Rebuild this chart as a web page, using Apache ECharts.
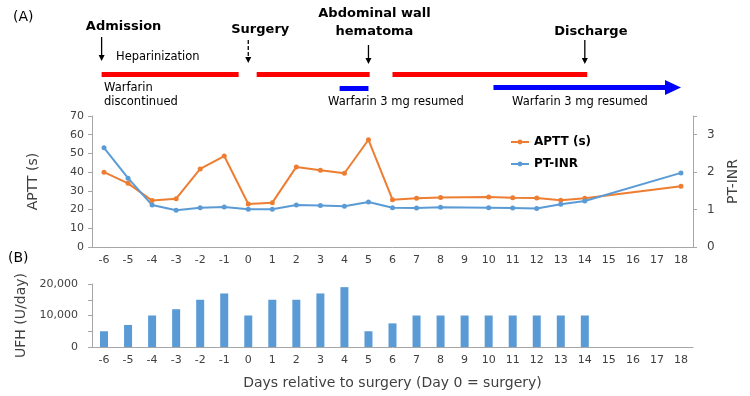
<!DOCTYPE html>
<html>
<head>
<meta charset="utf-8">
<script src="https://cdn.jsdelivr.net/npm/echarts@6/dist/echarts.min.js"></script>
<style>
html, body { margin: 0; padding: 0; background: #fff; }
#main { width: 750px; height: 396px; }
</style>
</head>
<body>
<div id="main"></div>
<script>
// days relative to surgery
var days = ['-6', '-5', '-4', '-3', '-2', '-1', '0', '1', '2', '3', '4', '5', '6',
    '7', '8', '9', '10', '11', '12', '13', '14', '15', '16', '17', '18'];
// APTT (s), left axis
var aptt = [40, 34, 24.8, 25.8, 41.7, 48.6, 23, 23.7, 42.8, 41, 39.4, 57.3, 25.3,
    26, 26.5, null, 26.7, 26.3, 26.2, 25, 26, null, null, null, 32.4];
// PT-INR, right axis
var ptInr = [2.65, 1.84, 1.12, 0.98, 1.05, 1.07, 1.01, 1.01, 1.12, 1.11, 1.09, 1.2, 1.05,
    1.04, 1.06, null, 1.05, 1.04, 1.03, 1.14, 1.23, null, null, null, 1.98];
// UFH (U/day)
var ufh = [5000, 7000, 10000, 12000, 15000, 17000, 10000, 15000, 15000, 17000, 19000, 5000, 7500,
    10000, 10000, 10000, 10000, 10000, 10000, 10000, 10000, null, null, null, null];

// timeline annotations (in days)
var eventNames = ['Admission', 'Surgery', 'Abdominal wall\nhematoma', 'Discharge'];
var eventDays = [-6.1, 0, 5, 14];
var heparinSpans = [[-6.1, -0.4], [0.35, 5.05], [6, 14.1]];
var warfarinSpans = [[3.8, 5], [10.2, 18]];

var FONT = 'Verdana, "DejaVu Sans", sans-serif';
var axisColor = '#a6a6a6';
var labelColor = '#404040';

var chart = echarts.init(document.getElementById('main'));

function xAxisCfg(grid, extra) {
    var c = {
        gridIndex: grid,
        type: 'category',
        data: days,
        axisLine: { lineStyle: { color: axisColor } },
        axisTick: { length: 4, lineStyle: { color: axisColor } },
        axisLabel: { color: labelColor, fontSize: 11, margin: 8, interval: 0 }
    };
    return Object.assign(c, extra || {});
}

var option = {
    animation: false,
    textStyle: { fontFamily: FONT },
    grid: [
        { left: 92, right: 57, top: 116, height: 131 },
        { left: 92, right: 57, top: 284, height: 63 }
    ],
    legend: {
        left: 505,
        top: 131,
        orient: 'vertical',
        itemWidth: 18,
        itemHeight: 6,
        itemGap: 10,
        textStyle: { fontSize: 12, fontWeight: 'bold', color: '#000' },
        data: ['APTT (s)', 'PT-INR']
    },
    xAxis: [
        xAxisCfg(0),
        xAxisCfg(1, {
            name: 'Days relative to surgery (Day 0 = surgery)',
            nameLocation: 'middle',
            nameGap: 29,
            nameTextStyle: { fontSize: 14, color: labelColor }
        })
    ],
    yAxis: [
        {
            gridIndex: 0, type: 'value', min: 0, max: 70, interval: 10,
            name: 'APTT (s)', nameLocation: 'middle', nameRotate: 90, nameGap: 52,
            nameTextStyle: { fontSize: 14, color: labelColor },
            axisLine: { show: true, lineStyle: { color: axisColor } },
            axisTick: { show: true, length: 4, lineStyle: { color: axisColor } },
            axisLabel: { color: labelColor, fontSize: 11 },
            splitLine: { show: false }
        },
        {
            gridIndex: 0, type: 'value', position: 'right', min: 0, max: 3.5, interval: 1,
            name: 'PT-INR', nameLocation: 'middle', nameRotate: 90, nameGap: 33,
            nameTextStyle: { fontSize: 14, color: labelColor },
            axisLine: { show: true, lineStyle: { color: axisColor } },
            axisTick: { show: true, length: 4, lineStyle: { color: axisColor } },
            axisLabel: {
                color: labelColor, fontSize: 12, margin: 14,
                formatter: function (v) { return v % 1 === 0 ? String(v) : ''; }
            },
            splitLine: { show: false }
        },
        {
            gridIndex: 1, type: 'value', min: 0, max: 20000, interval: 5000,
            name: 'UFH (U/day)', nameLocation: 'middle', nameRotate: 90, nameGap: 58,
            nameTextStyle: { fontSize: 14, color: labelColor },
            axisLine: { show: true, lineStyle: { color: axisColor } },
            axisTick: { show: true, length: 4, lineStyle: { color: axisColor } },
            axisLabel: {
                color: labelColor, fontSize: 11, margin: 14,
                formatter: function (v) { return v % 10000 === 0 ? v.toLocaleString('en-US') : ''; }
            },
            splitLine: { show: false }
        }
    ],
    series: [
        {
            name: 'APTT (s)', type: 'line', xAxisIndex: 0, yAxisIndex: 0,
            data: aptt, connectNulls: true,
            symbol: 'circle', symbolSize: 5,
            itemStyle: { color: '#ed7d31' },
            lineStyle: { color: '#ed7d31', width: 2 }
        },
        {
            name: 'PT-INR', type: 'line', xAxisIndex: 0, yAxisIndex: 1,
            data: ptInr, connectNulls: true,
            symbol: 'circle', symbolSize: 5,
            itemStyle: { color: '#5b9bd5' },
            lineStyle: { color: '#5b9bd5', width: 2 }
        },
        {
            name: 'UFH', type: 'bar', xAxisIndex: 1, yAxisIndex: 2,
            data: ufh, barWidth: 8,
            itemStyle: { color: '#5b9bd5' }
        }
    ]
};
chart.setOption(option);

// annotation layer, placed with the category axis
function dayToX(d) {
    var x0 = chart.convertToPixel({ xAxisIndex: 0 }, '-6');
    var x1 = chart.convertToPixel({ xAxisIndex: 0 }, '-5');
    return x0 + (d + 6) * (x1 - x0);
}

function txt(s, x, y, size, bold, align, lh) {
    return {
        type: 'text',
        style: {
            text: s, x: x, y: y,
            font: (bold ? 'bold ' : '') + size + 'px ' + FONT,
            fill: '#000',
            textAlign: align || 'left', align: align || 'left',
            textVerticalAlign: 'middle', verticalAlign: 'middle',
            lineHeight: lh || 18
        }
    };
}

function arrow(x, y1, y2, dashed) {
    return [
        { type: 'line', shape: { x1: x, y1: y1, x2: x, y2: y2 - 5 },
          style: { stroke: '#000', lineWidth: 1.3, lineDash: dashed ? [4, 2] : null } },
        { type: 'polygon', shape: { points: [[x - 3, y2 - 6], [x + 3, y2 - 6], [x, y2]] },
          style: { fill: '#000' } }
    ];
}

var arrowTops = [37, 40, 45, 40];
var arrowBottoms = [61, 63, 64, 64];
var textY = [27, 30, 23, 32];
var textDx = [22, 12, 6, 6];

var g = [];
g.push(txt('(A)', 13, 17, 14, false));
g.push(txt('(B)', 8, 258, 14, false));

eventDays.forEach(function (d, i) {
    var x = dayToX(d);
    g = g.concat(arrow(x, arrowTops[i], arrowBottoms[i], i === 1));
    g.push(txt(eventNames[i], x + textDx[i], textY[i], 13, true, 'center'));
});

heparinSpans.forEach(function (s) {
    var a = dayToX(s[0]), b = dayToX(s[1]);
    g.push({ type: 'rect', shape: { x: a, y: 72, width: b - a, height: 5 }, style: { fill: '#ff0000' } });
});

warfarinSpans.forEach(function (s, i) {
    var a = dayToX(s[0]), b = dayToX(s[1]);
    if (i === 0) {
        g.push({ type: 'rect', shape: { x: a, y: 86, width: b - a, height: 5 }, style: { fill: '#0000ff' } });
    } else {
        g.push({ type: 'rect', shape: { x: a, y: 85, width: b - a - 15, height: 5 }, style: { fill: '#0000ff' } });
        g.push({ type: 'polygon', shape: { points: [[b - 16, 80], [b - 16, 95], [b, 87.5]] }, style: { fill: '#0000ff' } });
    }
});

g.push(txt('Heparinization', 116, 57, 11.5, false));
g.push(txt('Warfarin\ndiscontinued', 104, 95, 11.5, false, 'left', 14));
g.push(txt('Warfarin 3 mg resumed', 328, 102, 11.5, false));
g.push(txt('Warfarin 3 mg resumed', 512, 102, 11.5, false));

chart.setOption({ graphic: g });
</script>
</body>
</html>
